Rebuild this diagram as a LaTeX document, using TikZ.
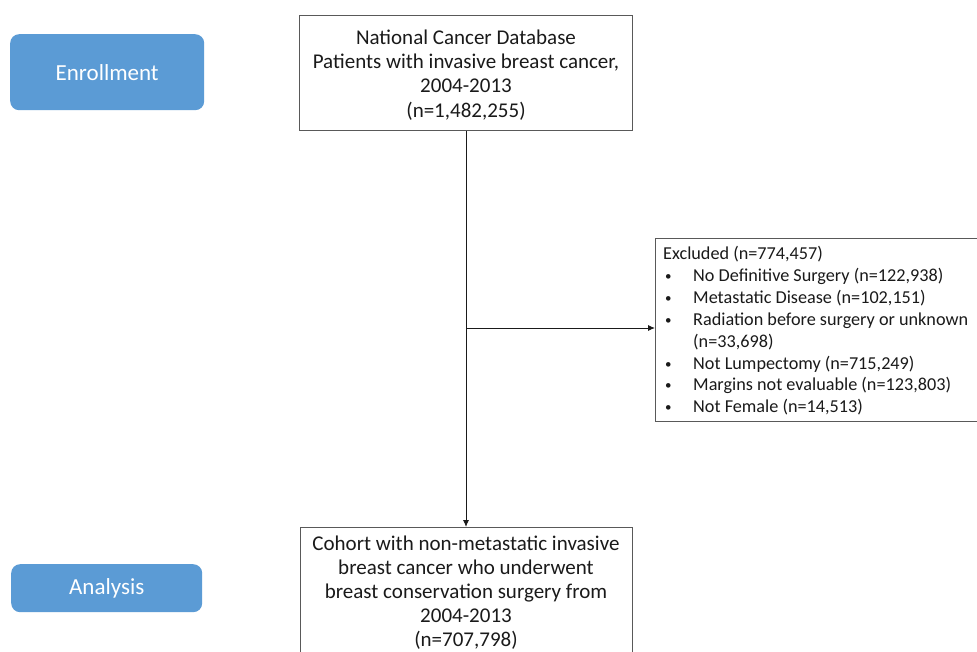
\documentclass[tikz,border=0pt]{standalone}
\usepackage{fontspec}
\setmainfont{Carlito}
\usetikzlibrary{arrows.meta}
\definecolor{phase}{HTML}{5B9BD5}
\definecolor{edge}{HTML}{595959}
\definecolor{ink}{HTML}{1A1A1A}
\newcommand{\exbullet}{\makebox[30pt][l]{\hspace{2pt}\raisebox{1pt}{\fontsize{13}{13}\selectfont •}}}
\tikzset{
  phasebox/.style={fill=phase, draw=none, rounded corners=9pt, text=white, font=\fontsize{23}{27}\selectfont, anchor=north west, inner sep=0pt},
  flowbox/.style={draw=edge, line width=1.1pt, fill=white, anchor=north west, inner sep=0pt},
  flowtext/.style={text=ink, align=center, inner sep=0pt, font=\fontsize{21}{24.3}\selectfont},
  flowarrow/.style={draw=ink, line width=0.9pt, -{Latex[length=7pt,width=6pt]}},
}
\begin{document}
\begin{tikzpicture}[x=1pt,y=-1pt]
\useasboundingbox (0,0) rectangle (977,652);
\clip (0,0) rectangle (977,652);
\fill[white] (0,0) rectangle (977,652);
% phase labels
\node[phasebox, minimum width=194pt, minimum height=76pt] (enroll) at (10,34) {Enrollment};
\node[phasebox, minimum width=191pt, minimum height=48pt] (analysis) at (11,564) {Analysis};
% top box
\node[flowbox, minimum width=333pt, minimum height=115pt] (top) at (299,15) {};
\node[flowtext] (toptext) at (466,75) {National Cancer Database\\Patients with invasive breast cancer,\\2004-2013\\(n=1,482,255)};
% bottom box
\node[flowbox, minimum width=332pt, minimum height=140pt] (bottom) at (300,527) {};
\node[flowtext, anchor=north, font=\fontsize{21}{24}\selectfont] (bottext) at (466,536) {Cohort with non-metastatic invasive\\breast cancer who underwent\\breast conservation surgery from\\2004-2013\\(n=707,798)};
% excluded box
\node[flowbox, minimum width=340pt, minimum height=183pt] (excl) at (655,238) {};
\node[anchor=north west, inner sep=0pt, text=ink, font=\fontsize{18.2}{21.9}\selectfont, align=left] (excltext) at (663,246) {%
Excluded (n=774,457)\\
\exbullet No Definitive Surgery (n=122,938)\\
\exbullet Metastatic Disease (n=102,151)\\
\exbullet Radiation before surgery or unknown\\
\makebox[30pt][l]{}(n=33,698)\\
\exbullet Not Lumpectomy (n=715,249)\\
\exbullet Margins not evaluable (n=123,803)\\
\exbullet Not Female (n=14,513)};
% connectors
\coordinate (split) at (466,328);
\draw[flowarrow] (top.south -| split) -- (bottom.north -| split);
\draw[flowarrow] (split) -- (excl.west |- split);
\end{tikzpicture}
\end{document}
